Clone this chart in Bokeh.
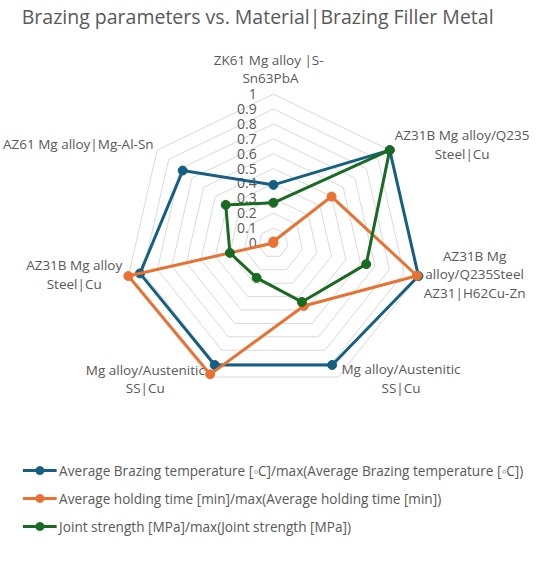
import numpy as np
from bokeh.plotting import figure
from bokeh.models import Range1d
from bokeh.core.properties import value
from bokeh.embed import file_html
from bokeh.resources import INLINE

title = "Brazing parameters vs. Material|Brazing Filler Metal"
categories = [
    "ZK61 Mg  alloy |S-\nSn63PbA",
    "AZ31B Mg alloy/Q235\nSteel|Cu",
    "AZ31B Mg\nalloy/Q235Steel\nAZ31|H62Cu-Zn",
    "Mg alloy/Austenitic\nSS|Cu",
    "Mg alloy/Austenitic\nSS|Cu",
    "AZ31B Mg alloy\nSteel|Cu",
    "AZ61 Mg alloy|Mg-Al-Sn",
]
series_names = [
    "Average Brazing temperature [\u25e6C]/max(Average Brazing temperature [\u25e6C])",
    "Average holding time [min]/max(Average holding time [min])",
    "Joint strength [MPa]/max(Joint strength [MPa])",
]
temp = [0.39, 1.0, 1.0, 0.91, 0.91, 0.92, 0.78]
hold = [0.01, 0.50, 0.99, 0.47, 0.98, 1.0, 0.0]
strength = [0.27, 1.0, 0.64, 0.44, 0.26, 0.30, 0.41]
ticks = [0, 0.1, 0.2, 0.3, 0.4, 0.5, 0.6, 0.7, 0.8, 0.9, 1]
tick_labels = ["0", "0.1", "0.2", "0.3", "0.4", "0.5", "0.6", "0.7", "0.8", "0.9", "1"]

# layout / style
colors = ["#156082", "#E97132", "#196B24"]
FONT = "Open Sans"
TXT = "#595959"
CX, CY, R = 285.0, 254.0, 151.0
label_dx = [-3, 73.5, 57, 64, -64.5, -55, -80]
label_dy = [-25.5, -6, -1.6, 1.5, 2, -1.6, -6]
LINE_H = 19

W, H = 534, 546
p = figure(width=W, height=H, x_range=Range1d(8, 550), y_range=Range1d(562, 8),
           output_backend="svg", toolbar_location=None, min_border=0)
p.axis.visible = False
p.grid.visible = False
p.outline_line_color = None
p.background_fill_color = "white"

n = len(categories)
ang = np.pi / 2 - np.arange(n) * 2 * np.pi / n
ux, uy = np.cos(ang), -np.sin(ang)  # screen y goes down


def to_xy(vals):
    v = np.asarray(vals, dtype=float)
    return CX + R * v * ux, CY + R * v * uy


# grid rings
rx, ry = [], []
for t in ticks[1:]:
    x, y = to_xy([t] * n)
    rx.append(list(x) + [x[0]])
    ry.append(list(y) + [y[0]])
p.multi_line(rx, ry, line_color="#d9d9d9", line_width=1)

# tick labels
ty = [CY - R * t for t in ticks]
p.text(x=[268] * len(ticks), y=ty, text=tick_labels, text_align="right", text_baseline="middle",
       text_font=value(FONT), text_font_size="14px", text_color=TXT)

# category labels
lx, ly, lt = [], [], []
for k, cat in enumerate(categories):
    lines = cat.split("\n")
    m = len(lines)
    for i, ln in enumerate(lines):
        lx.append(CX + R * ux[k] + label_dx[k])
        ly.append(CY + R * uy[k] + label_dy[k] + (i - (m - 1) / 2) * LINE_H)
        lt.append(ln)
p.text(x=lx, y=ly, text=lt, text_align="center", text_baseline="middle",
       text_font=value(FONT), text_font_size="13.5px", text_color=TXT)

# series
for vals, c in zip([temp, hold, strength], colors):
    x, y = to_xy(vals)
    p.line(list(x) + [x[0]], list(y) + [y[0]], line_color=c, line_width=3, line_join="round")
    p.scatter(x, y, size=9, fill_color=c, line_color=c)

# title
p.text(x=[269], y=[24], text=[title], text_align="center", text_baseline="middle",
       text_font=value(FONT), text_font_size="19.5px", text_color=TXT)

# legend
leg_y = [485, 513.3, 541.7]
for name, c, yy in zip(series_names, colors, leg_y):
    p.line([30.7, 65], [yy, yy], line_color=c, line_width=3)
    p.scatter([48], [yy], size=8, fill_color=c, line_color=c)
p.text(x=[67.5] * 3, y=leg_y, text=series_names, text_align="left", text_baseline="middle",
       text_font=value(FONT), text_font_size="13.6px", text_color=TXT)

open("out.html", "w").write(file_html(p, INLINE))
